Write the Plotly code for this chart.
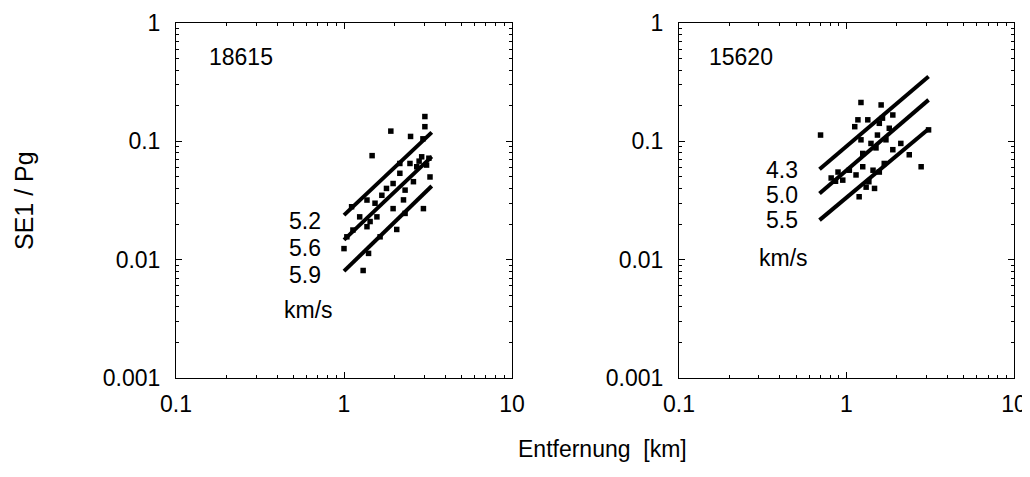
import plotly.graph_objects as go

# station 18615 (left panel)
st1_name = "18615"
st1_dist = [1.00, 1.30, 1.47, 1.90, 2.49, 3.03, 3.03, 2.95, 2.15, 2.15, 2.47, 2.90, 2.59, 1.79,
            2.26, 3.25, 2.97, 2.06, 2.31, 1.96, 1.64, 1.40, 1.37, 1.43, 1.04, 1.13, 1.11, 1.37,
            1.53, 1.57, 1.68, 2.31, 1.96, 2.71, 3.10, 1.24, 2.80, 3.20]
st1_ratio = [0.0124, 0.0081, 0.0757, 0.122, 0.110, 0.162, 0.133, 0.105, 0.065, 0.0537, 0.065, 0.074,
             0.0456, 0.040, 0.032, 0.050, 0.027, 0.018, 0.0246, 0.027, 0.0156, 0.0113, 0.019, 0.021,
             0.0156, 0.0178, 0.028, 0.0319, 0.030, 0.023, 0.035, 0.0387, 0.044, 0.061, 0.063, 0.023,
             0.068, 0.072]
st1_vel = ["5.2", "5.6", "5.9"]
st1_line_x = [1.0, 3.33]
st1_line_y = [[0.0238, 0.119], [0.0147, 0.0743], [0.0080, 0.0419]]

# station 15620 (right panel)
st2_name = "15620"
st2_dist = [0.70, 1.22, 1.61, 1.89, 1.12, 1.17, 1.34, 1.57, 1.64, 1.53, 1.80, 1.22, 1.40, 1.25,
            1.72, 2.11, 2.37, 2.79, 1.89, 0.81, 0.89, 0.95, 1.04, 1.14, 1.25, 1.44, 1.57, 1.19,
            1.31, 1.47, 1.36, 1.68, 3.09, 0.86, 1.50]
st2_ratio = [0.113, 0.213, 0.203, 0.167, 0.133, 0.152, 0.152, 0.142, 0.157, 0.113, 0.129, 0.103,
             0.096, 0.079, 0.103, 0.096, 0.077, 0.061, 0.085, 0.049, 0.055, 0.047, 0.057, 0.052,
             0.061, 0.057, 0.055, 0.034, 0.041, 0.040, 0.0456, 0.065, 0.125, 0.046, 0.088]
st2_vel = ["4.3", "5.0", "5.5"]
st2_line_x = [0.69, 3.09]
st2_line_y = [[0.058, 0.353], [0.0363, 0.224], [0.0216, 0.127]]

y_ticks = [0.001, 0.01, 0.1, 1]
y_ticktext = ["0.001", "0.01", "0.1", "1"]
x_ticks = [0.1, 1, 10]
x_ticktext = ["0.1", "1", "10"]

FONT = "Liberation Sans, Arial, Helvetica, sans-serif"
# the page body keeps its default 8px margin; the figure is shrunk so the
# page does not scroll, and everything below is placed in window pixels
OFF = 8
W, H = 1030 - OFF, 477 - 2 * OFF - 6


def fx(p):
    return (p - OFF) / W


def fy(p):
    return 1 - (p - OFF) / H


minor_x = [m * d for d in (0.1, 1) for m in range(2, 10)]
minor_y = [m * d for d in (0.001, 0.01, 0.1) for m in range(2, 10)]

fig = go.Figure()

panels = [
    ("x", "y", st1_dist, st1_ratio, st1_line_x, st1_line_y),
    ("x2", "y2", st2_dist, st2_ratio, st2_line_x, st2_line_y),
]
for xa, ya, dx, dy, lx, lys in panels:
    for ly in lys:
        fig.add_trace(go.Scatter(x=lx, y=ly, xaxis=xa, yaxis=ya, mode="lines",
                                 line=dict(color="black", width=4), hoverinfo="skip"))
    fig.add_trace(go.Scatter(x=dx, y=dy, xaxis=xa, yaxis=ya, mode="markers",
                             marker=dict(color="black", size=5.5, symbol="square"),
                             hoverinfo="x+y"))

y_dom = [fy(378), fy(23)]

axis_common = dict(
    type="log", showgrid=False, zeroline=False, showline=True, linecolor="black",
    linewidth=1, mirror="allticks", ticks="inside", ticklen=6, tickcolor="black",
    tickfont=dict(family=FONT, size=23, color="black"), tickmode="array",
    automargin=False,
)
minor_common = dict(ticks="inside", ticklen=3, tickcolor="black")

fig.update_layout(
    width=W, height=H,
    margin=dict(l=0, r=0, t=0, b=0),
    paper_bgcolor="white", plot_bgcolor="white",
    showlegend=False,
    xaxis=dict(axis_common, domain=[fx(176), fx(512)], range=[-1, 1], tickvals=x_ticks,
               ticktext=x_ticktext, anchor="y", ticklabelstandoff=5,
               minor=dict(minor_common, tickvals=minor_x)),
    yaxis=dict(axis_common, domain=y_dom, range=[-3, 0], tickvals=y_ticks,
               ticktext=y_ticktext, anchor="x", ticklabelstandoff=10,
               minor=dict(minor_common, tickvals=minor_y)),
    xaxis2=dict(axis_common, domain=[fx(679), fx(1014)], range=[-1, 1], tickvals=x_ticks,
                ticktext=x_ticktext, anchor="y2", ticklabelstandoff=5,
                minor=dict(minor_common, tickvals=minor_x)),
    yaxis2=dict(axis_common, domain=y_dom, range=[-3, 0], tickvals=y_ticks,
                ticktext=y_ticktext, anchor="x2", ticklabelstandoff=10,
                minor=dict(minor_common, tickvals=minor_y)),
)

txt = dict(family=FONT, size=23, color="black")


def label(xr, yr, x, y, text, xanchor):
    fig.add_annotation(xref=xr, yref=yr, x=x, y=y, text=text, showarrow=False,
                       xanchor=xanchor, yanchor="middle", font=txt)


# panel annotations (positions in log10 units)
label("x", "y", -0.815, -0.285, st1_name, "left")
for v, yy in zip(st1_vel, [-1.674, -1.905, -2.131]):
    label("x", "y", -0.123, yy, v, "right")
label("x", "y", -0.214, -2.422, "km/s", "center")

label("x2", "y2", -0.835, -0.285, st2_name, "left")
for v, yy in zip(st2_vel, [-1.242, -1.454, -1.666]):
    label("x2", "y2", -0.276, yy, v, "right")
label("x2", "y2", -0.375, -1.99, "km/s", "center")

# shared axis titles
fig.add_annotation(xref="paper", yref="paper", x=fx(602), y=0,
                   text="Entfernung  [km]", showarrow=False, font=txt,
                   xanchor="center", yanchor="bottom", borderpad=0)
fig.add_annotation(xref="paper", yref="paper", x=fx(24), y=fy(201),
                   text="SE1 / Pg", showarrow=False, font=dict(txt, size=25),
                   textangle=-90, xanchor="center", yanchor="middle")

fig.write_html("out.html")
